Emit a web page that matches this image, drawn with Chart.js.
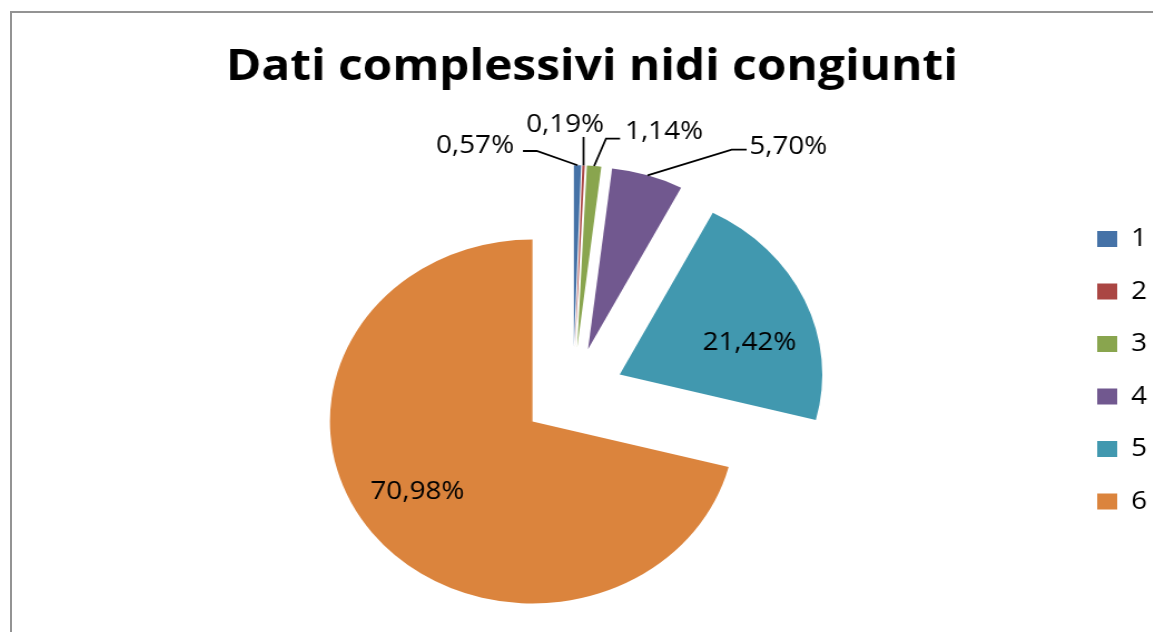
<!DOCTYPE html>
<html>
<head>
<meta charset="utf-8">
<script src="https://cdn.jsdelivr.net/npm/chart.js@4.4.1/dist/chart.umd.min.js"></script>
<style>
  html, body { margin: 0; padding: 0; background: #fff; overflow: hidden; }
  #frame {
    position: absolute; left: 10px; top: 11px; width: 1170px; height: 640px;
    border-left: 2px solid #939393; border-top: 2px solid #939393; overflow: hidden;
  }
  /* the original picture is stretched sideways a bit */
  #chartBox { transform: scaleX(1.113); transform-origin: 0 0; }
</style>
</head>
<body>
<div id="frame"><div id="chartBox"><canvas id="pieChart" width="1042" height="620"></canvas></div></div>
<script>
const categories = ["1", "2", "3", "4", "5", "6"];
const shares = [0.57, 0.19, 1.14, 5.70, 21.42, 70.98];
const sliceColors = ["#4572A7", "#AA4643", "#89A54E", "#71588F", "#4198AF", "#DB843D"];

const explode = 46; // every slice pulled out from the centre

// where each data label sits, offsets from the slice's outer mid point ("edge") or its tip ("tip")
const labelSpots = [
  { from: "edge", text: [-57, -19], align: "right", line: [[-36.6, -14.3], [-49, -14.3]] },
  { from: "edge", text: [-16.6, -40.5], align: "center", line: [[0, -28.5]] },
  { from: "edge", text: [27.8, -33.8], align: "left", line: [[10.7, -27.5], [23.3, -27.5]] },
  { from: "edge", text: [91.4, -28.3], align: "left", line: [[75.6, -25.7], [89, -25.7]] },
  { from: "tip", text: [116.6, -32], align: "center" },
  { from: "tip", text: [-103.4, 70.5], align: "center" }
];

const fmtPct = v => v.toFixed(2).replace(".", ",") + "%";

const explodedPie = {
  id: "explodedPie",
  afterLayout(chart) {
    // legend only reserves a narrow strip, let it draw its text past that
    const lg = chart.legend;
    lg.right = chart.width;
    lg.width = lg.right - lg.left;
  },
  beforeDatasetDraw(chart, args) {
    const ctx = chart.ctx;
    args.meta.data.forEach(arc => {
      const mid = (arc.startAngle + arc.endAngle) / 2;
      ctx.save();
      ctx.translate(Math.cos(mid) * explode, Math.sin(mid) * explode);
      arc.draw(ctx);
      ctx.restore();
    });
    return false;
  },
  afterDatasetsDraw(chart) {
    const ctx = chart.ctx;
    const meta = chart.getDatasetMeta(0);
    ctx.save();
    meta.data.forEach((arc, i) => {
      const mid = (arc.startAngle + arc.endAngle) / 2;
      const tipX = arc.x + Math.cos(mid) * explode;
      const tipY = arc.y + Math.sin(mid) * explode;
      const edgeX = tipX + Math.cos(mid) * arc.outerRadius;
      const edgeY = tipY + Math.sin(mid) * arc.outerRadius;
      const spot = labelSpots[i];
      const bx = spot.from === "edge" ? edgeX : tipX;
      const by = spot.from === "edge" ? edgeY : tipY;
      if (spot.line) {
        ctx.beginPath();
        ctx.moveTo(edgeX, edgeY);
        spot.line.forEach(p => ctx.lineTo(bx + p[0], by + p[1]));
        ctx.strokeStyle = "#000";
        ctx.lineWidth = 1.8;
        ctx.stroke();
      }
      ctx.font = "25px 'Open Sans'";
      ctx.fillStyle = "#000";
      ctx.textAlign = spot.align;
      ctx.textBaseline = "middle";
      ctx.fillText(fmtPct(shares[i]), bx + spot.text[0], by + spot.text[1]);
    });
    ctx.restore();
  }
};

new Chart("pieChart", {
  type: "pie",
  data: {
    labels: categories,
    datasets: [{
      data: shares,
      backgroundColor: sliceColors,
      borderWidth: 0,
      hoverOffset: 0,
      radius: 182
    }]
  },
  options: {
    responsive: false,
    animation: false,
    events: [],
    layout: { padding: { left: 60.5, right: 60.5, top: 0, bottom: 91.5 } },
    plugins: {
      title: {
        display: true,
        text: "Dati complessivi nidi congiunti",
        color: "#000",
        font: { family: "'Open Sans'", size: 43, weight: "bold" },
        padding: { top: 28.7, bottom: 151.7 }
      },
      legend: {
        position: "right",
        align: "end",
        maxWidth: 34,
        labels: {
          boxWidth: 18,
          boxHeight: 16,
          padding: 27.5,
          color: "#000",
          font: { family: "'Open Sans'", size: 25 }
        }
      },
      tooltip: { enabled: false }
    }
  },
  plugins: [explodedPie]
});
</script>
</body>
</html>
